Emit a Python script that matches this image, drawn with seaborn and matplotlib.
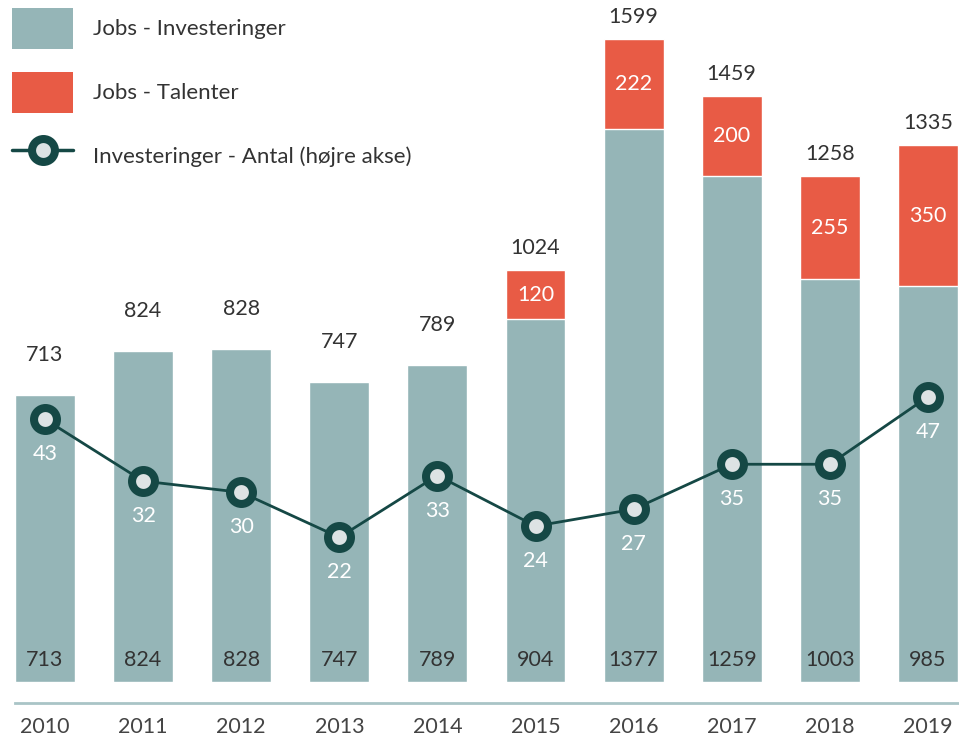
import numpy as np
import pandas as pd
import matplotlib
matplotlib.use("Agg")
import matplotlib.pyplot as plt
import seaborn as sns
from matplotlib.patches import Patch
from matplotlib.lines import Line2D

# data
years = ["2010", "2011", "2012", "2013", "2014", "2015", "2016", "2017", "2018", "2019"]
jobs_investeringer = [713, 824, 828, 747, 789, 904, 1377, 1259, 1003, 985]
jobs_talenter = [0, 0, 0, 0, 0, 120, 222, 200, 255, 350]
investeringer_antal = [43, 32, 30, 22, 33, 24, 27, 35, 35, 47]

df = pd.DataFrame({
    "aar": years,
    "inv": jobs_investeringer,
    "tal": jobs_talenter,
    "antal": investeringer_antal,
})
df["total"] = df["inv"] + df["tal"]

TEAL = "#95b5b7"
RED = "#e85b45"
DARK = "#154845"
TXT = "#333333"
FS = 15.5

sns.set_style("white")
plt.rcParams["font.family"] = ["Lato", "DejaVu Sans"]

fig = plt.figure(figsize=(9.59, 7.38), dpi=100)
ax = fig.add_axes([0, 56 / 738, 1, 682 / 738])

# red = total, teal on top of it = investeringer part
sns.barplot(data=df, x="aar", y="total", color=RED, saturation=1, width=0.61, ax=ax)
sns.barplot(data=df, x="aar", y="inv", color=TEAL, saturation=1, width=0.61, ax=ax)

ax.set_xlim(-0.459, 9.317)
ax.set_ylim(0, 1697)
ax.set_xlabel("")
ax.set_ylabel("")
ax.set_yticks([])
for s in ["top", "left", "right"]:
    ax.spines[s].set_visible(False)
ax.spines["bottom"].set_position(("outward", 15))
ax.spines["bottom"].set_color("#a9c4c6")
ax.spines["bottom"].set_linewidth(2)
ax.spines["bottom"].set_bounds(-0.306, 9.317)
ax.tick_params(axis="x", length=0, pad=10, labelsize=FS, labelcolor="#444444")

px = 72 / 100  # pixel -> points
for i, row in df.iterrows():
    gap = 22 if row["tal"] > 0 else 40
    ax.annotate(str(row["total"]), (i, row["total"]), xytext=(0, gap * px),
                textcoords="offset points", ha="center", va="center",
                fontsize=FS, color=TXT)
    ax.annotate(str(row["inv"]), (i, 0), xytext=(0, 22 * px),
                textcoords="offset points", ha="center", va="center",
                fontsize=FS, color=TXT)
    if row["tal"] > 0:
        ax.text(i, row["inv"] + row["tal"] / 2, str(row["tal"]), ha="center",
                va="center", fontsize=FS, color="white")

ax2 = ax.twinx()
sns.lineplot(x=np.arange(len(years)), y=df["antal"], ax=ax2, color=DARK,
             linewidth=2, marker="o", markersize=16.5, markerfacecolor="#dde3e4",
             markeredgecolor=DARK, markeredgewidth=5.8)
ax2.set_ylim(-3.74, 117.6)
ax2.set_xlim(-0.459, 9.317)
ax2.set_yticks([])
ax2.set_ylabel("")
for s in ax2.spines.values():
    s.set_visible(False)
for i, v in enumerate(investeringer_antal):
    ax2.annotate(str(v), (i, v), xytext=(0, -35 * px), textcoords="offset points",
                 ha="center", va="center", fontsize=FS, color="white")

handles = [
    Patch(facecolor=TEAL, edgecolor="none"),
    Patch(facecolor=RED, edgecolor="none"),
    Line2D([0], [0], color=DARK, linewidth=2.5, marker="o", markersize=16.5,
           markerfacecolor="#dde3e4", markeredgecolor=DARK, markeredgewidth=5.8),
]
labels = ["Jobs - Investeringer", "Jobs - Talenter", "Investeringer - Antal (højre akse)"]
leg = fig.legend(handles, labels, loc="upper left", bbox_to_anchor=(12 / 959, 1 - 8 / 738),
                 frameon=False, fontsize=16, borderpad=0, borderaxespad=0,
                 handlelength=2.75, handleheight=2.46, labelspacing=1.04,
                 handletextpad=0.9)
for t in leg.get_texts():
    t.set_color(TXT)

fig.savefig("out.png", dpi=100)
